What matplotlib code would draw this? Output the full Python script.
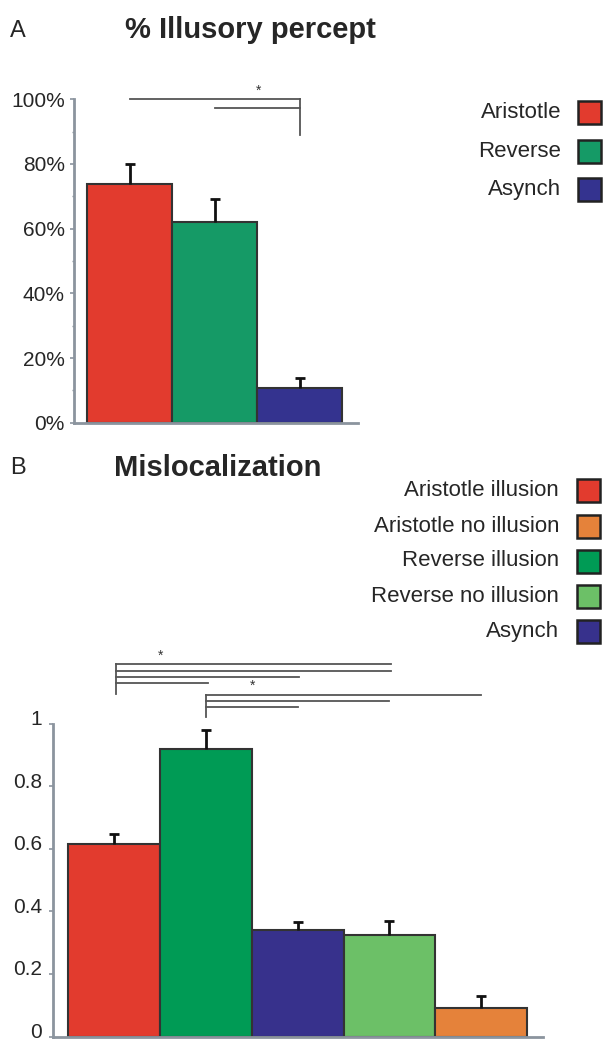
import numpy as np
import matplotlib
matplotlib.use("Agg")
import matplotlib.pyplot as plt
from matplotlib.patches import Rectangle
from matplotlib.transforms import ScaledTranslation

plt.rcParams['font.family'] = ['Liberation Sans', 'DejaVu Sans']

# panel A: % illusory percept
a_labels = ['Aristotle', 'Reverse', 'Asynch']
a_values = [73.7, 62.0, 10.6]
a_errors = [6.2, 7.3, 3.3]
a_colors = ['#e23b2e', '#159a66', '#34338f']
a_sig_pairs = [(0, 2), (1, 2)]

# panel B: mislocalization
b_labels = ['Aristotle illusion', 'Reverse illusion', 'Asynch',
            'Reverse no illusion', 'Aristotle no illusion']
b_values = [0.614, 0.918, 0.339, 0.323, 0.091]
b_errors = [0.032, 0.062, 0.028, 0.045, 0.039]
b_colors = ['#e23b2e', '#009b55', '#37318c', '#6cc067', '#e5823a']
b_legend_order = [0, 4, 1, 3, 2]
b_sig_pairs_1 = [(0, 3), (0, 3), (0, 2), (0, 1)]
b_sig_pairs_2 = [(1, 4), (1, 3), (1, 2)]

W, H = 603, 1041
fig = plt.figure(figsize=(W / 100, H / 100), dpi=100)

AXIS_GRAY = '#8b949e'
LINE_GRAY = '#555555'
EDGE = '#333333'
TEXT = '#262626'


def px_axes(x0, x1, ytop, ybot):
    return fig.add_axes([x0 / W, 1 - ybot / H, (x1 - x0) / W, (ybot - ytop) / H])


def style_axis(ax, pad):
    for s in ['top', 'right']:
        ax.spines[s].set_visible(False)
    for s in ['left', 'bottom']:
        ax.spines[s].set_color(AXIS_GRAY)
        ax.spines[s].set_linewidth(2.0)
    ax.set_xticks([])
    ax.tick_params(axis='y', which='major', length=3, width=1.2, color=AXIS_GRAY,
                   labelsize=15, pad=pad, labelcolor=TEXT)
    ax.tick_params(axis='y', which='minor', length=1.5, width=1, color=AXIS_GRAY)


def bars_with_errors(ax, values, errors, colors, width):
    x = np.arange(len(values))
    ax.bar(x, values, width=width, color=colors, edgecolor=EDGE, linewidth=1.5, zorder=2)
    low = np.zeros(len(values))
    _, caps, _ = ax.errorbar(x, values, yerr=[low, errors], fmt='none', ecolor='#111111',
                             elinewidth=2, capsize=3.5, capthick=2, zorder=3)
    caps[0].set_visible(False)


def legend_column(labels, colors, ys, text_right, sq_left, size):
    for lab, col, y in zip(labels, colors, ys):
        fig.text(text_right / W, 1 - y / H, lab, ha='right', va='center',
                 fontsize=16, color=TEXT)
        fig.add_artist(Rectangle((sq_left / W, 1 - (y + size / 2) / H), size / W, size / H,
                                 transform=fig.transFigure, facecolor=col,
                                 edgecolor='#222222', linewidth=1.8))


kw = dict(color=LINE_GRAY, lw=1.3, clip_on=False, zorder=4)

# ---------- panel A ----------
axA = px_axes(74, 358, 99.3, 422.7)
bars_with_errors(axA, a_values, a_errors, a_colors, 1.0)
axA.set_xlim((74 - 129.5) / 85, (358 - 129.5) / 85)
axA.set_ylim(0, 100)
axA.set_yticks([0, 20, 40, 60, 80, 100])
axA.set_yticklabels([f'{t}%' for t in [0, 20, 40, 60, 80, 100]])
axA.set_yticks(np.arange(10, 100, 20), minor=True)
style_axis(axA, 3.5)

# significance lines: both bars against Asynch
for (i, j), y in zip(a_sig_pairs, [100, 97.4]):
    axA.plot([i, j], [y, y], **kw)
axA.plot([2, 2], [100, 89], **kw)
axA.text(1.52, 102.6, '*', ha='center', va='center', fontsize=10, color='#333333')

fig.text(10 / W, 1 - 31 / H, 'A', ha='left', va='center', fontsize=17, color=TEXT)
fig.text(125 / W, 1 - 30 / H, '% Illusory percept', ha='left', va='center',
         fontsize=21, fontweight='bold', color=TEXT)
legend_column(a_labels, a_colors, [112.7, 151.7, 189.5], 561, 578, 23)

# ---------- panel B ----------
axB = px_axes(53, 543, 723.7, 1036.5)
bars_with_errors(axB, b_values, b_errors, b_colors, 1.0)
axB.set_xlim((53 - 114) / 91.8, (543 - 114) / 91.8)
axB.set_ylim(0, 1)
axB.set_yticks([0, 0.2, 0.4, 0.6, 0.8, 1.0])
axB.set_yticklabels(['0', '0.2', '0.4', '0.6', '0.8', '1'])
style_axis(axB, 5)
for lab in axB.get_yticklabels():
    lab.set_transform(lab.get_transform() + ScaledTranslation(0, 6 / 100, fig.dpi_scale_trans))

# significance brackets above the bars
ys1 = [1.191, 1.169, 1.150, 1.131]
for (i, j), y in zip(b_sig_pairs_1, ys1):
    axB.plot([i + 0.02, j + 0.02], [y, y], **kw)
axB.plot([0.02, 0.02], [ys1[0], 1.095], **kw)
axB.text(0.51, 1.217, '*', ha='center', va='center', fontsize=10, color='#333333')

ys2 = [1.092, 1.073, 1.054]
for (i, j), y in zip(b_sig_pairs_2, ys2):
    axB.plot([i, j], [y, y], **kw)
axB.plot([1, 1], [ys2[0], 1.022], **kw)
axB.text(1.51, 1.122, '*', ha='center', va='center', fontsize=10, color='#333333')

fig.text(10 / W, 1 - 468 / H, 'B', ha='left', va='center', fontsize=17, color=TEXT)
fig.text(114 / W, 1 - 468 / H, 'Mislocalization', ha='left', va='center',
         fontsize=21, fontweight='bold', color=TEXT)
legend_column([b_labels[k] for k in b_legend_order], [b_colors[k] for k in b_legend_order],
              [490.7, 526, 561, 596, 631.7], 559, 577, 23)

fig.savefig('out.png', dpi=100)
